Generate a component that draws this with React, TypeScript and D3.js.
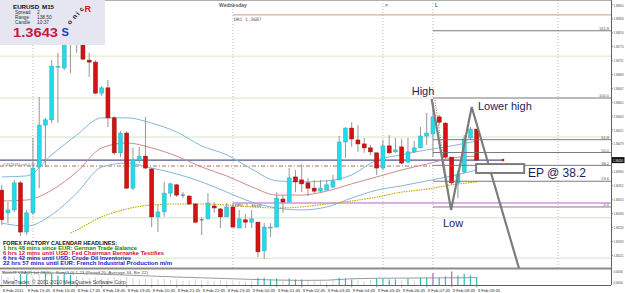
import React from 'react';
import * as d3 from 'd3';

// ---- candle data (EURUSD M15, bar 0 = 8 Feb 14:45) ----
const opens = [1.36339,1.36270,1.36279,1.36361,1.36212,1.36270,1.36409,1.36536,1.36552,1.36712,1.36709,1.36824,1.36791,1.36806,1.36733,1.36727,1.36633,1.36649,1.36558,1.36452,1.36512,1.36345,1.36430,1.36442,1.36403,1.36258,1.36273,1.36330,1.36355,1.36324,1.36321,1.36297,1.36249,1.36252,1.36291,1.36282,1.36258,1.36288,1.36224,1.36249,1.36242,1.36242,1.36155,1.36224,1.36227,1.36312,1.36303,1.36379,1.36370,1.36361,1.36345,1.36336,1.36339,1.36348,1.36370,1.36485,1.36527,1.36491,1.36479,1.36467,1.36452,1.36406,1.36473,1.36455,1.36470,1.36424,1.36455,1.36467,1.36503,1.36509,1.36561,1.36542,1.36439,1.36361,1.36394,1.36497,1.36524];
const highs = [1.36355,1.36303,1.36370,1.36367,1.36279,1.36497,1.36621,1.36558,1.36733,1.36755,1.36848,1.36839,1.36861,1.36824,1.36755,1.36733,1.36655,1.36673,1.36564,1.36518,1.36518,1.36467,1.36470,1.36561,1.36406,1.36294,1.36364,1.36361,1.36358,1.36333,1.36324,1.36300,1.36258,1.36330,1.36303,1.36285,1.36300,1.36300,1.36279,1.36267,1.36279,1.36243,1.36239,1.36239,1.36333,1.36324,1.36406,1.36400,1.36418,1.36376,1.36370,1.36370,1.36370,1.36385,1.36503,1.36530,1.36545,1.36536,1.36497,1.36476,1.36452,1.36491,1.36506,1.36497,1.36494,1.36497,1.36488,1.36530,1.36573,1.36603,1.36567,1.36545,1.36439,1.36400,1.36506,1.36530,1.36524];
const lows = [1.36233,1.36239,1.36273,1.36200,1.36203,1.36264,1.36345,1.36409,1.36542,1.36542,1.36703,1.36694,1.36755,1.36733,1.36682,1.36630,1.36624,1.36530,1.36445,1.36439,1.36342,1.36339,1.36421,1.36403,1.36227,1.36212,1.36258,1.36318,1.36318,1.36315,1.36294,1.36239,1.36203,1.36249,1.36270,1.36224,1.36258,1.36227,1.36224,1.36224,1.36224,1.36136,1.36130,1.36197,1.36227,1.36270,1.36303,1.36333,1.36333,1.36321,1.36330,1.36330,1.36339,1.36348,1.36370,1.36436,1.36470,1.36455,1.36452,1.36445,1.36385,1.36400,1.36448,1.36452,1.36418,1.36421,1.36452,1.36467,1.36476,1.36439,1.36536,1.36433,1.36355,1.36315,1.36391,1.36491,1.36427];
const closes = [1.36249,1.36279,1.36361,1.36212,1.36270,1.36406,1.36536,1.36552,1.36715,1.36714,1.36824,1.36794,1.36818,1.36736,1.36727,1.36633,1.36649,1.36558,1.36452,1.36512,1.36345,1.36430,1.36442,1.36406,1.36258,1.36273,1.36330,1.36358,1.36324,1.36323,1.36297,1.36242,1.36248,1.36300,1.36285,1.36258,1.36288,1.36227,1.36252,1.36242,1.36252,1.36152,1.36227,1.36227,1.36315,1.36303,1.36376,1.36364,1.36358,1.36345,1.36336,1.36345,1.36355,1.36367,1.36485,1.36527,1.36494,1.36479,1.36467,1.36455,1.36406,1.36473,1.36452,1.36461,1.36421,1.36455,1.36467,1.36503,1.36512,1.36561,1.36545,1.36439,1.36361,1.36388,1.36494,1.36524,1.36430];

// ---- moving averages, sampled every 4th bar ----
const maBars = [0,4,8,12,16,20,24,28,32,36,40,44,48,52,56,60,64,68,72,76];
const maHigh = [1.36379,1.36382,1.36446,1.36506,1.36558,1.36558,1.36542,1.36515,1.36473,1.36446,1.36403,1.36367,1.36364,1.36367,1.36385,1.36430,1.36446,1.36461,1.36473,1.36488];
const maClose = [1.36306,1.36309,1.36339,1.36394,1.36467,1.36482,1.36467,1.36442,1.36409,1.36382,1.36349,1.36324,1.36324,1.36336,1.36358,1.36379,1.36400,1.36418,1.36436,1.36442];
const maLow = [1.36239,1.36230,1.36264,1.36330,1.36409,1.36421,1.36406,1.36388,1.36364,1.36333,1.36303,1.36285,1.36279,1.36288,1.36315,1.36339,1.36352,1.36367,1.36382,1.36400];
const ma89Bars = [11,12,16,20,24,28,32,36,40,44,48,52,56,60,64,68,72,76];
const ma89 = [1.36209,1.36218,1.36258,1.36282,1.36294,1.36297,1.36297,1.36294,1.36288,1.36285,1.36288,1.36297,1.36306,1.36318,1.36333,1.36342,1.36355,1.36364];

// ---- volume subwindow ----
const volumes = [600,500,550,700,650,600,650,700,750,600,700,650,550,500,450,500,400,450,500,400,500,450,350,400,450,350,400,300,350,250,300,350,300,300,250,300,250,300,250,200,250,450,450,350,400,300,400,350,350,300,250,250,200,300,450,400,350,300,250,300,400,400,350,350,300,400,300,450,450,750,450,550,850,600,700,600,500];
const volKind = [0,0,0,1,1,0,0,1,1,1,1,1,0,0,0,0,0,0,0,0,0,0,0,0,0,0,0,0,0,0,0,0,0,0,0,0,0,0,0,0,0,1,1,1,1,0,1,1,1,0,0,0,0,0,1,1,1,0,0,0,1,1,1,1,0,1,0,1,1,2,1,1,2,1,1,1,1];
const volAvg = [810,790,760,720,670,620,560,500,450,400,350,310,290,300,390,420,430,440,450,460];

// ---- levels / labels ----
const paleLevels = [1.36745,1.36618,1.36500,1.36255,1.36133];
const dr1 = 1.3687;
const dpv = 1.3630;
const orderPrice = 1.3643;
const orderDashPrice = 1.36412;
const fibLow = 1.36288;
const fibHigh = 1.36618;
const fibLevels = [0, 23.6, 38.2, 50, 61.8, 100, 161.8];
const priceTicks = [1.36900,1.36858,1.36816,1.36774,1.36731,1.36689,1.36647,1.36605,1.36563,1.36521,1.36479,1.36394,1.36352,1.36310,1.36268,1.36226,1.36183,1.36141];
const subTicks = ['0.00050', '0.00000'];
const timeLabels = ['8 Feb 2011','8 Feb 15:45','8 Feb 16:45','8 Feb 17:45','8 Feb 18:45','8 Feb 19:45','8 Feb 20:45','8 Feb 21:45','8 Feb 22:45','8 Feb 23:45','9 Feb 00:45','9 Feb 01:45','9 Feb 02:45','9 Feb 03:45','9 Feb 04:45','9 Feb 05:45','9 Feb 06:45','9 Feb 07:45','9 Feb 08:45','9 Feb 09:45'];
const sessionBars = [5, 37, 61, 69, 89];
const sessionMarks = [{ bar: 37, text: 'Wednesday', anchor: 'middle' }, { bar: 61, text: '>', anchor: 'start' }, { bar: 69, text: 'L', anchor: 'start' }];
const zigzag = [{ bar: 68.8, price: 1.36615 }, { bar: 71.9, price: 1.36279 }, { bar: 75.2, price: 1.36591 }, { bar: 82.8, price: 1.36100 }];
const epBox = { bar0: 75.9, bar1: 83.6, p0: 1.36418, p1: 1.36391 };
const notes = [
  { text: 'High', bar: 65.6, price: 1.36627 },
  { text: 'Lower high', bar: 76.2, price: 1.36582 },
  { text: 'Low', bar: 70.6, price: 1.36227 },
  { text: 'EP @ 38.2', bar: 84.2, price: 1.36380 },
];
const headlines = [
  { text: 'FOREX FACTORY CALENDAR  HEADLINES:', color: '#101010', len: 114 },
  { text: '1 hrs 48 mins since EUR: German Trade Balance', color: '#0b8a10', len: 134 },
  { text: '6 hrs 12 mins until USD: Fed Chairman Bernanke Testifies', color: '#d0103c', len: 161 },
  { text: '6 hrs 42 mins until USD: Crude Oil Inventories', color: '#1a1ad0', len: 128 },
  { text: '22 hrs 57 mins until EUR: French Industrial Production m/m', color: '#1a1ad0', len: 169 },
];

export default function App() {
  const right = 611;
  const bottom = 268;
  const x = d3.scaleLinear().domain([0, 76]).range([1.7, 476.7]);
  const y = d3.scaleLinear().domain([1.369, 1.3609]).range([5, 272.3]);
  const vy = d3.scaleLinear().domain([0, 1000]).range([285, 269]);
  const font = '"Liberation Sans", Arial, sans-serif';

  const mkLine = (bars: number[], vals: number[]) =>
    d3.line<number>().x((_, i) => x(bars[i])).y((v) => y(v)).curve(d3.curveMonotoneX)(vals) || '';
  const fibPrice = (lv: number) => fibLow + (fibHigh - fibLow) * lv / 100;
  const fibX0 = x(69);
  const zz = d3.line<{ bar: number; price: number }>().x((d) => x(d.bar)).y((d) => y(d.price))(zigzag) || '';
  const avgLine = d3.line<number>().x((_, i) => x(maBars[i])).y((v) => vy(v))(volAvg) || '';
  // narrow axis label: horizontally squeezed so it stays inside the 625px page
  const axisText = (key: string, tx: number, ty: number, t: string, fill: string, fs = 4.3) => (
    <text key={key} transform={`translate(${tx} ${ty}) scale(0.64 1)`} x={0} y={0} fontSize={fs} fill={fill}>{t}</text>
  );

  return (
    <svg width={625} height={293} style={{ position: 'absolute', left: 0, top: 0, fontFamily: font }}>
      <rect x={0} y={0} width={625} height={293} fill="#ffffff" />
      <defs>
        <clipPath id="mainClip"><rect x={0} y={0} width={right} height={bottom} /></clipPath>
      </defs>
      <g clipPath="url(#mainClip)">
        {paleLevels.map((p, i) => (
          <line key={'pl' + i} x1={0} x2={right} y1={y(p)} y2={y(p)} stroke={i === 0 ? '#e6e2c8' : '#cfe6c8'} strokeWidth={1} />
        ))}
        {sessionBars.map((b, i) => (
          <line key={'sb' + i} x1={x(b)} x2={x(b)} y1={0} y2={bottom} stroke="#a8a8a8" strokeWidth={0.8} strokeDasharray="1,2" />
        ))}
        {/* daily pivot lines */}
        <line x1={x(37)} x2={right} y1={y(dr1)} y2={y(dr1)} stroke="#d49888" strokeWidth={1} />
        <text x={x(37) + 1} y={y(dr1) + 6} fontSize={4.6} fill="#505050" fontFamily="DejaVu Sans Mono, monospace">DR1  1.3687</text>
        <line x1={x(37)} x2={right} y1={y(dpv)} y2={y(dpv)} stroke="#dcaee6" strokeWidth={2} />
        <text x={x(37) + 2} y={y(dpv) + 4} fontSize={4.4} fill="#505050" fontFamily="DejaVu Sans Mono, monospace">DPV  1.3630</text>
        {/* order lines */}
        <line x1={0} x2={x(69)} y1={y(orderDashPrice)} y2={y(orderDashPrice)} stroke="#a04848" strokeWidth={0.8} strokeDasharray="4,2,1,2" />
        <line x1={x(69.3)} x2={x(71.9)} y1={y(1.36612)} y2={y(1.36279)} stroke="#c03030" strokeWidth={0.8} strokeDasharray="1,1.5" />
        <line x1={0} x2={503} y1={y(orderPrice)} y2={y(orderPrice)} stroke="#2a2a78" strokeWidth={1} />
        <circle cx={503} cy={y(orderPrice)} r={1.4} fill="#d02020" />
        <text x={2} y={y(orderDashPrice) - 0.5} fontSize={3.8} fill="#707070" textLength={33} lengthAdjust="spacingAndGlyphs">#14329181 sell 0.10</text>
        {/* moving averages */}
        <path d={mkLine(maBars, maHigh)} fill="none" stroke="#86b6dc" strokeWidth={1} />
        <path d={mkLine(maBars, maLow)} fill="none" stroke="#86b6dc" strokeWidth={1} />
        <path d={mkLine(maBars, maClose)} fill="none" stroke="#d48a8a" strokeWidth={1} />
        <path d={mkLine(ma89Bars, ma89)} fill="none" stroke="#c4a800" strokeWidth={1.1} strokeDasharray="1.5,1" />
        {/* candles */}
        {opens.map((o, i) => {
          const c = closes[i];
          const cx = x(i);
          const up = c >= o;
          const top = y(Math.max(o, c));
          const h = Math.max(0.8, y(Math.min(o, c)) - top);
          return (
            <g key={'c' + i}>
              <line x1={cx} x2={cx} y1={y(highs[i])} y2={y(lows[i])} stroke="#8a8a8a" strokeWidth={0.9} />
              {Math.abs(o - c) < 0.00002 ? (
                <line x1={cx - 2} x2={cx + 2} y1={top} y2={top} stroke="#505050" strokeWidth={0.9} />
              ) : (
                <rect x={cx - 2} y={top} width={4} height={h} fill={up ? '#1edcea' : '#d81010'} stroke={up ? '#49a9b8' : '#8c1414'} strokeWidth={0.5} />
              )}
            </g>
          );
        })}
        {/* fibonacci */}
        {fibLevels.map((lv) => {
          const fy = y(fibPrice(lv));
          const heavy = lv === 100;
          return (
            <g key={'f' + lv}>
              <line x1={fibX0} x2={right} y1={fy} y2={fy} stroke={heavy ? '#a8a8a8' : '#6c6c6c'} strokeWidth={heavy ? 1.6 : 0.9} />
              <text x={right - 2} y={fy - 0.8} fontSize={4} textAnchor="end" fill="#606060">{lv.toFixed(1)}</text>
            </g>
          );
        })}
        {/* drawing */}
        <path d={zz} fill="none" stroke="#7c7c7c" strokeWidth={2.2} strokeLinejoin="miter" />
        <rect x={x(epBox.bar0)} y={y(epBox.p0)} width={x(epBox.bar1) - x(epBox.bar0)} height={y(epBox.p1) - y(epBox.p0)} fill="#ffffff" stroke="#7c7c7c" strokeWidth={2} />
        {notes.map((n, i) => (
          <text key={'n' + i} x={x(n.bar)} y={y(n.price)} fontSize={i === 3 ? 12 : 11} fill="#1c1c5c">{n.text}</text>
        ))}
        {sessionMarks.map((s, i) => (
          <text key={'sm' + i} x={x(s.bar) + (s.anchor === 'start' ? 2 : 0)} y={7} fontSize={5} fontWeight="bold" fill="#606060" textAnchor={s.anchor as any}>{s.text}</text>
        ))}
      </g>
      <line x1={0} x2={right} y1={0.5} y2={0.5} stroke="#b0b0b0" strokeWidth={1} />

      {/* info box */}
      <rect x={0} y={0} width={105} height={45} fill="#e6e6f2" />
      <text x={13} y={8.5} fontSize={6.2} fontWeight="bold" fill="#101010">EURUSD</text>
      <text x={42} y={8.5} fontSize={6.2} fontWeight="bold" fill="#101010">M15</text>
      {[['Spread', '2'], ['Range', '138.50'], ['Candle', '10:37']].map((r, i) => (
        <g key={'ib' + i}>
          <text x={15} y={14 + i * 5.2} fontSize={4.8} fill="#303030">{r[0]}</text>
          <text x={37} y={14 + i * 5.2} fontSize={4.8} fill="#303030">{r[1]}</text>
        </g>
      ))}
      <text x={13} y={37} fontSize={13} fontWeight="bold" fill="#c8173e" textLength={45} lengthAdjust="spacingAndGlyphs">1.3643</text>
      <text x={61.5} y={36} fontSize={11} fontWeight="bold" fill="#1c3cc4">S</text>
      {[['o', 70, 25], ['n', 75, 19.5], ['i', 78.8, 15.5], ['c', 82, 12]].map((l, i) => (
        <text key={'so' + i} x={l[1] as number} y={l[2] as number} fontSize={6.5} fontWeight="bold" fill="#101010" transform={`rotate(-50 ${l[1]} ${l[2]})`}>{l[0]}</text>
      ))}
      <text x={84.5} y={11.5} fontSize={9} fontWeight="bold" fill="#d81818">R</text>

      {/* headlines */}
      {headlines.map((h, i) => (
        <text key={'h' + i} x={3} y={244.5 + i * 5.1} fontSize={5.4} fontWeight="bold" fill={h.color} textLength={h.len} lengthAdjust="spacingAndGlyphs">{h.text}</text>
      ))}

      {/* subwindow */}
      <line x1={0} x2={right} y1={268.5} y2={268.5} stroke="#8c8c8c" strokeWidth={2} />
      {volumes.map((v, i) => (
        <line key={'v' + i} x1={x(i)} x2={x(i)} y1={vy(0)} y2={vy(v)} stroke={volKind[i] === 2 ? '#9070c0' : volKind[i] === 1 ? '#30b8b8' : '#d0d0d0'} strokeWidth={volKind[i] ? 1.2 : 0.9} />
      ))}
      <path d={avgLine} fill="none" stroke="#808080" strokeWidth={0.8} />
      <text x={2} y={273.5} fontSize={3.8} fill="#505050" textLength={146} lengthAdjust="spacingAndGlyphs">SonicR VSA(2) (a) 28(0) ...Sum(3,0) 1.23 (Period 20, Average 34, Bin 22)</text>
      <text x={3} y={284} fontSize={4.8} fill="#404040" textLength={124} lengthAdjust="spacingAndGlyphs">MetaTrader, © 2001-2010 MetaQuotes Software Corp.</text>

      {/* right axis */}
      <line x1={right + 0.5} x2={right + 0.5} y1={0} y2={285} stroke="#606060" strokeWidth={1} />
      {priceTicks.map((p, i) => (
        <g key={'pt' + i}>
          <line x1={right} x2={right + 2} y1={y(p)} y2={y(p)} stroke="#606060" strokeWidth={0.6} />
          {axisText('ptt' + i, right + 2.5, y(p) + 1.5, p.toFixed(5), '#404040')}
        </g>
      ))}
      <rect x={right + 1} y={y(orderPrice) - 3} width={12.5} height={6} fill="#101010" />
      {axisText('bid', right + 2, y(orderPrice) + 1.5, orderPrice.toFixed(5), '#ffffff')}
      {subTicks.map((t, i) => axisText('st' + i, right + 2.5, 273 + i * 11, t, '#404040', 4))}

      {/* time axis */}
      <line x1={0} x2={right} y1={285.5} y2={285.5} stroke="#606060" strokeWidth={1} />
      {timeLabels.map((t, i) => (
        <g key={'t' + i}>
          <line x1={x(i * 4)} x2={x(i * 4)} y1={285} y2={287.5} stroke="#606060" strokeWidth={0.6} />
          <text x={x(i * 4) + 1} y={291.5} fontSize={4.2} fill="#303030">{t}</text>
        </g>
      ))}
    </svg>
  );
}
